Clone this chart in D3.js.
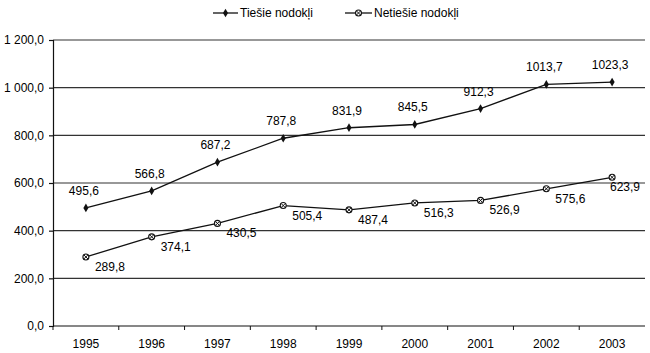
<!DOCTYPE html>
<html>
<head>
<meta charset="utf-8">
<script src="https://cdn.jsdelivr.net/npm/d3@7"></script>
<style>
  body { margin: 0; background: #fff; }
  svg text { font-family: "Liberation Sans", Arial, sans-serif; fill: #000; font-size: 12px; }
</style>
</head>
<body>
<div id="chart"></div>
<script>
const years = ["1995", "1996", "1997", "1998", "1999", "2000", "2001", "2002", "2003"];
const tiesie = [495.6, 566.8, 687.2, 787.8, 831.9, 845.5, 912.3, 1013.7, 1023.3];
const netiesie = [289.8, 374.1, 430.5, 505.4, 487.4, 516.3, 526.9, 575.6, 623.9];
const yTicks = [0, 200, 400, 600, 800, 1000, 1200];
const seriesNames = ["Tiešie nodokļi", "Netiešie nodokļi"];

var margin = { top: 40, right: 5, bottom: 27, left: 53 },
    width = 650 - margin.left - margin.right,
    height = 353 - margin.top - margin.bottom;

var svg = d3.select("#chart").append("svg")
    .attr("width", 650)
    .attr("height", 353);

var g = svg.append("g")
    .attr("transform", "translate(" + margin.left + "," + margin.top + ")");

var x = d3.scaleBand().domain(years).range([0, width]);
var y = d3.scaleLinear().domain([0, 1200]).range([height, 0]);

/* number format: 1 200,0 */
function fmt(v) {
    var s = d3.format(",.1f")(v);
    return s.replace(/,/g, " ").replace(".", ",");
}
function fmtLabel(v) {
    return d3.format(".1f")(v).replace(".", ",");
}

/* gridlines */
g.selectAll(".grid")
    .data(yTicks.slice(1))
    .enter().append("line")
    .attr("x1", 0).attr("x2", width)
    .attr("y1", function(d) { return y(d); })
    .attr("y2", function(d) { return y(d); })
    .attr("stroke", "#333")
    .attr("stroke-width", 1.2);

/* y axis */
var yAxis = g.append("g")
    .call(d3.axisLeft(y).tickValues(yTicks).tickSize(4).tickPadding(5).tickFormat(fmt));
yAxis.selectAll("text").style("font-size", "12px");
yAxis.selectAll("line, path").attr("stroke", "#111").attr("stroke-width", 1.2);

/* x axis: ticks at band boundaries */
var xAxis = g.append("g")
    .attr("transform", "translate(0," + height + ")");
xAxis.append("line")
    .attr("x1", 0).attr("x2", width)
    .attr("stroke", "#111").attr("stroke-width", 1.2);
xAxis.selectAll(".xtick")
    .data(years)
    .enter().append("line")
    .attr("x1", function(d) { return x(d); })
    .attr("x2", function(d) { return x(d); })
    .attr("y1", 0).attr("y2", 4)
    .attr("stroke", "#111");
xAxis.selectAll(".xlabel")
    .data(years)
    .enter().append("text")
    .attr("x", function(d) { return x(d) + x.bandwidth() / 2; })
    .attr("y", 22)
    .attr("text-anchor", "middle")
    .text(String);

var line = d3.line()
    .x(function(d, i) { return x(years[i]) + x.bandwidth() / 2; })
    .y(function(d) { return y(d); });

/* Tiešie line */
g.append("path")
    .datum(tiesie)
    .attr("fill", "none")
    .attr("stroke", "#111")
    .attr("stroke-width", 1.3)
    .attr("d", line);

/* Netiešie line */
g.append("path")
    .datum(netiesie)
    .attr("fill", "none")
    .attr("stroke", "#111")
    .attr("stroke-width", 1.3)
    .attr("d", line);

var diamond = d3.symbol().type(d3.symbolDiamond).size(22);

g.selectAll(".m1")
    .data(tiesie)
    .enter().append("path")
    .attr("d", diamond)
    .attr("fill", "#111")
    .attr("transform", function(d, i) {
        return "translate(" + (x(years[i]) + x.bandwidth() / 2) + "," + y(d) + ")";
    });

function crossMarker(sel) {
    sel.append("circle").attr("r", 3).attr("fill", "#fff").attr("stroke", "#111").attr("stroke-width", 1.1);
    sel.append("path").attr("d", "M-2.1,-2.1L2.1,2.1M-2.1,2.1L2.1,-2.1").attr("stroke", "#111").attr("stroke-width", 1);
}

g.selectAll(".m2")
    .data(netiesie)
    .enter().append("g")
    .attr("transform", function(d, i) {
        return "translate(" + (x(years[i]) + x.bandwidth() / 2) + "," + y(d) + ")";
    })
    .call(crossMarker);

/* data labels */
g.selectAll(".l1")
    .data(tiesie)
    .enter().append("text")
    .attr("x", function(d, i) { return x(years[i]) + x.bandwidth() / 2 - 2; })
    .attr("y", function(d) { return y(d) - 13; })
    .attr("text-anchor", "middle")
    .text(fmtLabel);

/* right-side labels, kept inside the plot like the original */
g.selectAll(".l2")
    .data(netiesie)
    .enter().append("text")
    .attr("y", function(d) { return y(d) + 14; })
    .attr("text-anchor", "start")
    .text(fmtLabel)
    .attr("x", function(d, i) {
        var px = x(years[i]) + x.bandwidth() / 2 + 9;
        var w = this.getComputedTextLength();
        return Math.min(px, width - w - 5);
    });

/* legend */
var legend = svg.append("g").attr("transform", "translate(0,13)");
var l1 = legend.append("g").attr("transform", "translate(213,0)");
l1.append("line").attr("x1", 0).attr("x2", 25).attr("stroke", "#111").attr("stroke-width", 1.3);
l1.append("path").attr("d", diamond).attr("fill", "#111").attr("transform", "translate(12.5,0)");
l1.append("text").attr("x", 27).attr("y", 4).text(seriesNames[0]);

var l2 = legend.append("g").attr("transform", "translate(345,0)");
l2.append("line").attr("x1", 0).attr("x2", 27).attr("stroke", "#111").attr("stroke-width", 1.3);
l2.append("g").attr("transform", "translate(13.5,0)").call(crossMarker);
l2.append("text").attr("x", 29).attr("y", 4).text(seriesNames[1]);
</script>
</body>
</html>
